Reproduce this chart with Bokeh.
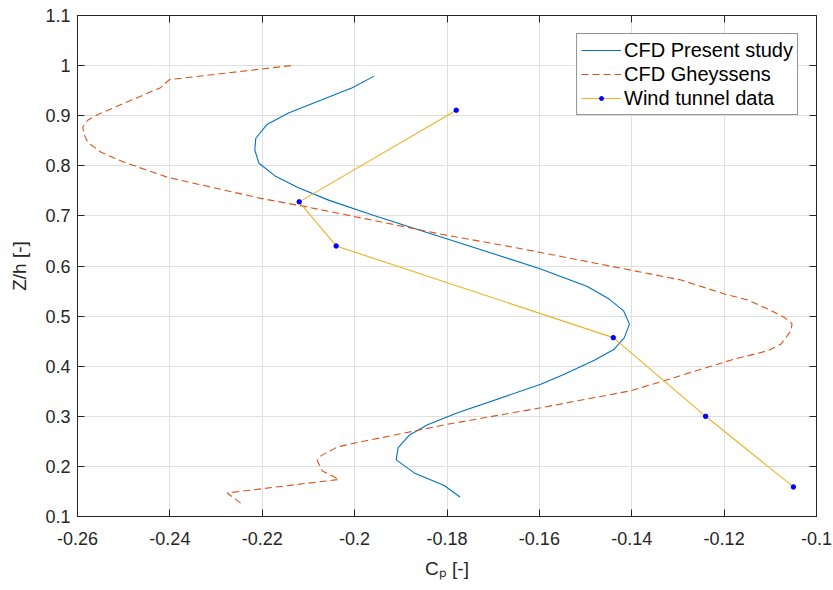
from bokeh.plotting import figure
from bokeh.models import (Range1d, FixedTicker, CustomJSTickFormatter, LinearAxis,
                          Legend, LegendItem)
from bokeh.embed import file_html
from bokeh.resources import INLINE

# Pressure coefficient profiles along the height (Z/h)
cp_present = [-0.1958, -0.2005, -0.2142, -0.2189, -0.2214, -0.2216, -0.2207, -0.2171,
              -0.2124, -0.2055, -0.1958, -0.1857, -0.1799, -0.1597, -0.1496, -0.1449,
              -0.1418, -0.1405, -0.1416, -0.1438, -0.1481, -0.1546, -0.1597, -0.1777,
              -0.1842, -0.1882, -0.1906, -0.1910, -0.1871, -0.1806, -0.1772]
z_present = [0.979, 0.956, 0.906, 0.883, 0.855, 0.831, 0.805, 0.779,
             0.757, 0.731, 0.701, 0.671, 0.654, 0.594, 0.559, 0.534,
             0.511, 0.484, 0.457, 0.434, 0.412, 0.384, 0.364, 0.307,
             0.283, 0.262, 0.237, 0.213, 0.187, 0.162, 0.139]

cp_gheyssens = [-0.2138, -0.2401, -0.2420, -0.2557, -0.2578, -0.2589, -0.2585, -0.2578,
                -0.2549, -0.2499, -0.2405, -0.2203, -0.2109, -0.1799, -0.1683, -0.1597,
                -0.1398, -0.1293, -0.1199, -0.1149, -0.1105, -0.1069, -0.1053, -0.1055,
                -0.1077, -0.1105, -0.1178, -0.1250, -0.1330, -0.1402, -0.1597, -0.1799,
                -0.1987, -0.2037, -0.2073, -0.2081, -0.2070, -0.2034, -0.2276, -0.2240]
z_gheyssens = [1.000, 0.972, 0.956, 0.902, 0.891, 0.877, 0.861, 0.847,
               0.827, 0.807, 0.777, 0.735, 0.719, 0.661, 0.642, 0.627,
               0.591, 0.572, 0.544, 0.532, 0.514, 0.497, 0.485, 0.471,
               0.444, 0.431, 0.414, 0.394, 0.371, 0.351, 0.317, 0.284,
               0.249, 0.239, 0.221, 0.212, 0.191, 0.174, 0.147, 0.122]

cp_tunnel = [-0.178, -0.212, -0.204, -0.144, -0.124, -0.105]
z_tunnel = [0.911, 0.728, 0.640, 0.457, 0.300, 0.159]

x_ticks = [-0.26, -0.24, -0.22, -0.2, -0.18, -0.16, -0.14, -0.12, -0.1]
y_ticks = [0.1, 0.2, 0.3, 0.4, 0.5, 0.6, 0.7, 0.8, 0.9, 1.0, 1.1]

labels = ["CFD Present study", "CFD Gheyssens", "Wind tunnel data"]

FONT = "Liberation Sans"
AX = "#262626"

p = figure(width=833, height=590, x_range=Range1d(-0.26, -0.1), y_range=Range1d(0.1, 1.1),
           output_backend="svg", toolbar_location=None,
           min_border_left=77, min_border_right=17, min_border_top=15, min_border_bottom=74)
p.background_fill_color = "white"
p.border_fill_color = "white"
p.outline_line_color = AX

fmt = CustomJSTickFormatter(code="return tick.toFixed(2).replace(/0+$/, '').replace(/\\.$/, '');")

for ax, ticks in ((p.xaxis[0], x_ticks), (p.yaxis[0], y_ticks)):
    ax.ticker = FixedTicker(ticks=ticks)
    ax.formatter = fmt
    ax.major_tick_in = 7
    ax.major_tick_out = 0
    ax.minor_tick_line_color = None
    ax.axis_line_color = AX
    ax.major_tick_line_color = AX
    ax.major_label_text_font = FONT
    ax.major_label_text_font_size = "18px"
    ax.major_label_text_color = AX
    ax.axis_label_text_font = FONT
    ax.axis_label_text_font_size = "19px"
    ax.axis_label_text_font_style = "normal"
    ax.axis_label_text_color = AX
p.xaxis[0].major_label_standoff = 15
p.yaxis[0].major_label_standoff = 7

p.yaxis[0].axis_label = "Z/h [-]"
p.yaxis[0].axis_label_standoff = 12
p.xaxis[0].axis_label = "C\u209a [-]"
p.xaxis[0].axis_label_standoff = 10

# tick marks on the top and right edges of the box
for loc, ticks in (("above", x_ticks), ("right", y_ticks)):
    ax = LinearAxis(ticker=FixedTicker(ticks=ticks), formatter=fmt,
                    major_tick_in=7, major_tick_out=0, minor_tick_line_color=None,
                    axis_line_color=AX, major_tick_line_color=AX,
                    major_label_text_font_size="0px", major_label_text_color=None,
                    major_label_standoff=0)
    p.add_layout(ax, loc)

p.xgrid.ticker = FixedTicker(ticks=x_ticks)
p.ygrid.ticker = FixedTicker(ticks=y_ticks)
for g in (p.xgrid[0], p.ygrid[0]):
    g.grid_line_color = "#dfdfdf"
    g.grid_line_width = 1

r_present = p.line(cp_present, z_present, color="#0072BD", line_width=1.1)
r_gh = p.line(cp_gheyssens, z_gheyssens, color="#D95319", line_width=1.1, line_dash="7 4")
r_tun_line = p.line(cp_tunnel, z_tunnel, color="#EDB120", line_width=1.1)
r_tun_pts = p.scatter(cp_tunnel, z_tunnel, size=4.5, color="#0000FF")

legend = Legend(items=[LegendItem(label=labels[0], renderers=[r_present]),
                       LegendItem(label=labels[1], renderers=[r_gh]),
                       LegendItem(label=labels[2], renderers=[r_tun_line, r_tun_pts])],
                location="top_right", margin=18, padding=4, spacing=0,
                glyph_width=40, glyph_height=10, label_height=24, label_standoff=3,
                label_text_font=FONT, label_text_font_size="20px", label_text_color="black",
                border_line_color=AX, border_line_width=1, background_fill_alpha=1)
p.add_layout(legend)

open("out.html", "w").write(file_html(p, INLINE))
